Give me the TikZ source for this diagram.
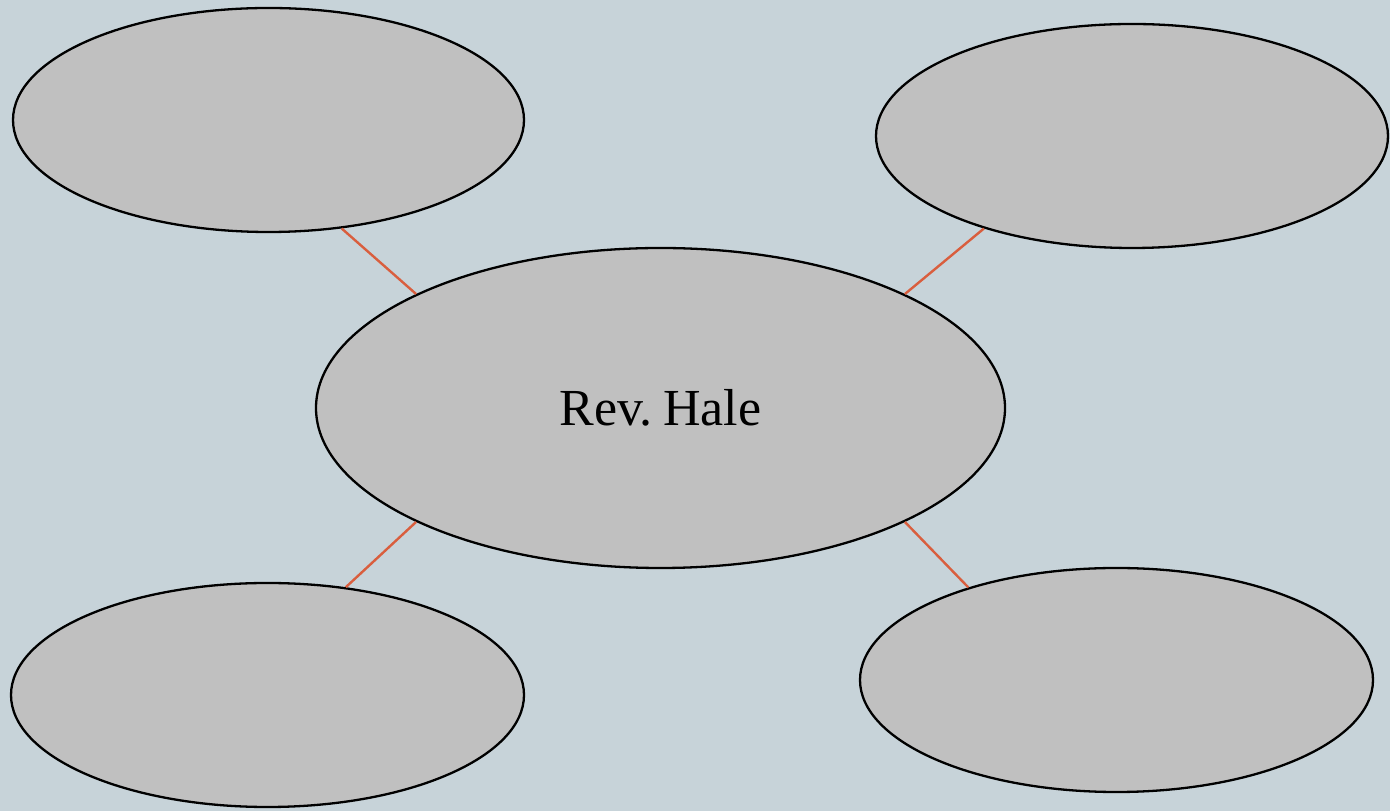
\documentclass[tikz,border=0pt]{standalone}
\usepackage{fontspec}
\setmainfont{Liberation Serif}
\usetikzlibrary{shapes.geometric}
\definecolor{bgc}{RGB}{199,211,217}
\definecolor{fillc}{RGB}{192,192,192}
\definecolor{linec}{RGB}{217,94,62}
\begin{document}
\begin{tikzpicture}[x=1pt,y=1pt,
  bubble/.style={ellipse,draw=black,line width=2.3pt,fill=fillc,inner sep=0pt},
  link/.style={draw=linec,line width=2.4pt}]
\fill[bgc] (0,0) rectangle (1390,811);
\useasboundingbox (0,0) rectangle (1390,811);
\node[bubble,minimum width=689pt,minimum height=320pt] (c) at (660.5,403) {\fontsize{52}{60}\selectfont Rev.\kern-0.05em\ Hale};
\node[bubble,minimum width=511pt,minimum height=224pt] (tl) at (268.5,691) {};
\node[bubble,minimum width=512pt,minimum height=224pt] (tr) at (1132,675) {};
\node[bubble,minimum width=513pt,minimum height=224pt] (bl) at (267.5,116) {};
\node[bubble,minimum width=513pt,minimum height=224pt] (br) at (1116.5,131) {};
\draw[link] (c.155) -- (tl.-56);
\draw[link] (c.25) -- (tr.212);
\draw[link] (c.205) -- (bl.54);
\draw[link] (c.-25) -- (br.148.5);
\end{tikzpicture}
\end{document}
